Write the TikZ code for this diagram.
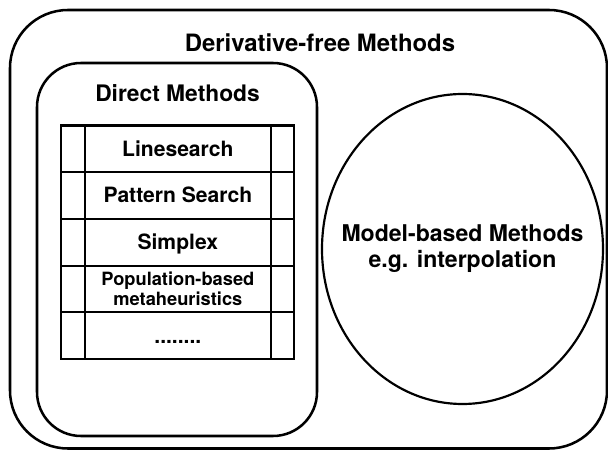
\documentclass[tikz,border=0pt]{standalone}
\usepackage{fontspec}
\setmainfont{TeX Gyre Heros}
\usetikzlibrary{shapes,positioning}

\tikzset{
  box/.style={draw, rectangle, line width=1.8pt, inner sep=0pt, outer sep=0pt, rounded corners=#1},
  cellbase/.style={draw, rectangle, line width=1.5pt, inner sep=0pt, outer sep=0pt, minimum width=4.6425cm, minimum height=1.1675cm, align=center, font=\bfseries\fontsize{15}{18}\selectfont},
  cell/.style={cellbase, text height=10.5pt, text depth=0pt},
  side/.style={draw, rectangle, line width=1.5pt, inner sep=0pt, outer sep=0pt, minimum width=0.59cm, minimum height=1.1675cm},
  title/.style={font=\bfseries\fontsize{#1}{#1}\selectfont, inner sep=0pt}
}

\begin{document}
\begin{tikzpicture}
\useasboundingbox (0,0) rectangle (15.2,11.25);

\node[box=1.45cm, minimum width=14.925cm, minimum height=10.9625cm] (dfm) at (7.7125,5.51875) {};
\node[title=17] (dfmtitle) at (8.0,10.175) {Derivative-free Methods};

\node[box=1.1cm, minimum width=7cm, minimum height=9.325cm] (direct) at (4.425,5.0125) {};
\node[title=16.2] (directtitle) at (4.4375,8.925) {Direct Methods};

\node[cell] (r1) at (4.44625,7.52875) {Linesearch};
\node[cell, below=0pt of r1] (r2) {Pattern Search};
\node[cell, below=0pt of r2] (r3) {Simplex};
\node[cellbase, below=0pt of r3, font=\bfseries\fontsize{13}{14.2}\selectfont] (r4) {Population-based\\metaheuristics};
\node[cell, below=0pt of r4] (r5) {........};

\node[side, left=0pt of r1] (l1) {};
\node[side, left=0pt of r2] (l2) {};
\node[side, left=0pt of r3] (l3) {};
\node[side, left=0pt of r4] (l4) {};
\node[side, left=0pt of r5] (l5) {};
\node[side, right=0pt of r1] (s1) {};
\node[side, right=0pt of r2] (s2) {};
\node[side, right=0pt of r3] (s3) {};
\node[side, right=0pt of r4] (s4) {};
\node[side, right=0pt of r5] (s5) {};

\node[draw, ellipse, line width=1.55pt, inner sep=0pt, outer sep=0pt, minimum width=7.025cm, minimum height=7.75cm] (model) at (11.5625,5.025) {};
\node[align=center, inner sep=0pt, font=\bfseries\fontsize{16.4}{18.5}\selectfont] (modeltext) at (model.center) {Model-based Methods\\e.g. interpolation};
\end{tikzpicture}
\end{document}
